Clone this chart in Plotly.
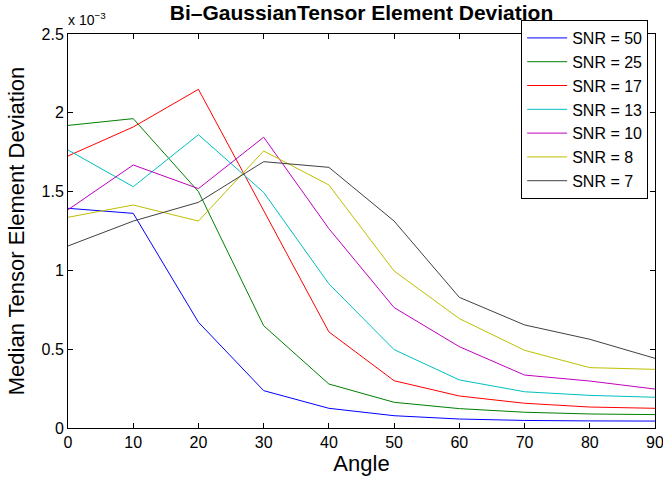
import plotly.graph_objects as go

# Angle (degrees) and median deviation in units of 1e-3
angle = [0, 10, 20, 30, 40, 50, 60, 70, 80, 90]
snr_labels = ["SNR = 50", "SNR = 25", "SNR = 17", "SNR = 13", "SNR = 10", "SNR = 8", "SNR = 7"]
snr50 = [1.394, 1.362, 0.671, 0.237, 0.125, 0.078, 0.057, 0.048, 0.045, 0.044]
snr25 = [1.920, 1.963, 1.500, 0.649, 0.279, 0.163, 0.123, 0.100, 0.089, 0.085]
snr17 = [1.726, 1.910, 2.149, 1.380, 0.610, 0.300, 0.203, 0.157, 0.133, 0.125]
snr13 = [1.764, 1.531, 1.861, 1.495, 0.915, 0.497, 0.305, 0.230, 0.207, 0.195]
snr10 = [1.385, 1.669, 1.519, 1.845, 1.265, 0.764, 0.516, 0.336, 0.298, 0.247]
snr8 = [1.337, 1.415, 1.313, 1.758, 1.542, 0.996, 0.694, 0.493, 0.383, 0.372]
snr7 = [1.155, 1.313, 1.432, 1.690, 1.654, 1.313, 0.829, 0.654, 0.563, 0.442]
series = [snr50, snr25, snr17, snr13, snr10, snr8, snr7]
colors = ["#0000ff", "#008000", "#ff0000", "#00bfbf", "#bf00bf", "#bfbf00", "#404040"]

x_ticks = [0, 10, 20, 30, 40, 50, 60, 70, 80, 90]
y_ticks = [0, 0.5, 1, 1.5, 2, 2.5]
y_tick_text = ["0", "0.5", "1", "1.5", "2", "2.5"]

FONT = "Liberation Sans, Arial, Helvetica, sans-serif"

fig = go.Figure()
for name, vals, col in zip(snr_labels, series, colors):
    fig.add_trace(go.Scatter(x=angle, y=vals, mode="lines", name=name,
                             line=dict(color=col, width=1)))

axis_common = dict(showgrid=False, zeroline=False, showline=True, linecolor="black",
                   linewidth=1, mirror="ticks", ticks="inside", ticklen=5,
                   tickcolor="black", ticklabeloverflow="allow",
                   tickfont=dict(family=FONT, size=16, color="black"))

fig.update_layout(
    width=663, height=481,
    margin=dict(l=68, r=8, t=34, b=53, autoexpand=False),
    paper_bgcolor="white", plot_bgcolor="white",
    font=dict(family=FONT, color="black"),
    title=dict(text="<b>Bi–GaussianTensor Element Deviation</b>",
               font=dict(family=FONT, size=21, color="black"),
               x=0.5, xanchor="center", xref="paper",
               y=0.988, yref="container", yanchor="top"),
    xaxis=dict(range=[0, 90], tickvals=x_ticks,
               title=dict(text="Angle", font=dict(family=FONT, size=22), standoff=2),
               **axis_common),
    yaxis=dict(range=[0, 2.5], tickvals=y_ticks, ticktext=y_tick_text,
               title=dict(text="Median Tensor Element Deviation",
                          font=dict(family=FONT, size=22), standoff=10),
               **axis_common),
    legend=dict(x=0.772, y=1.0355, xanchor="left", yanchor="top",
                bgcolor="white", bordercolor="black", borderwidth=1,
                font=dict(family=FONT, size=16, color="black"),
                itemwidth=40, tracegroupgap=0),
    showlegend=True,
)

fig.add_annotation(text="x 10<sup>−3</sup>", xref="paper", yref="paper",
                   x=0, y=1, xanchor="left", yanchor="bottom", xshift=-2, yshift=4,
                   showarrow=False, font=dict(family=FONT, size=14, color="black"))

fig.write_html("out.html")
